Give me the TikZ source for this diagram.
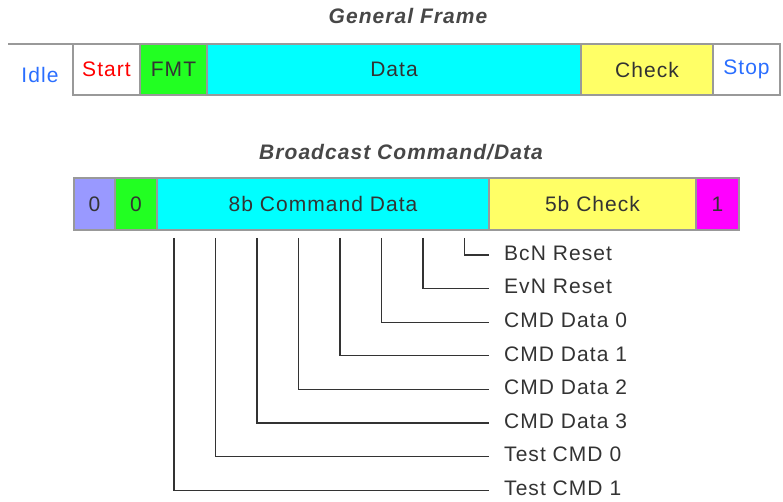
\documentclass[tikz,border=0pt]{standalone}
\usepackage{fontspec}
\setmainfont[LetterSpace=5]{Liberation Sans}
\usetikzlibrary{positioning}

\definecolor{fmtgreen}{HTML}{22FF22}
\definecolor{datacyan}{HTML}{00FFFF}
\definecolor{chkyellow}{HTML}{FFFF66}
\definecolor{bitblue}{HTML}{9999FF}
\definecolor{endmagenta}{HTML}{FF00FF}
\definecolor{idleblue}{HTML}{2A6EFF}
\definecolor{txtgray}{HTML}{333333}
\definecolor{edgegray}{HTML}{999999}

\tikzset{
  field/.style={draw=edgegray, line width=1.2pt, inner sep=0pt, outer sep=0pt,
    text=txtgray, font=\fontsize{21}{25}\selectfont},
  topfield/.style={field, minimum height=51pt},
  bcfield/.style={field, minimum height=52pt},
  heading/.style={text=txtgray!90, font=\fontsize{21}{25}\selectfont\bfseries\itshape},
  bitlabel/.style={anchor=west, inner xsep=15pt, text=txtgray, text depth=4pt,
    font=\fontsize{21}{25}\selectfont},
  bitline/.style={txtgray, line width=1.3pt}
}

\begin{document}
\begin{tikzpicture}[x=1pt,y=-1pt]
\useasboundingbox (0,0) rectangle (783,502);

% General frame
\node[heading] (gtitle) at (408,16) {General Frame};
\node[topfield, anchor=north west, minimum width=67pt, text=red] (start) at (73,44) {Start};
\node[topfield, right=0pt of start, minimum width=67pt, fill=fmtgreen] (fmt) {FMT};
\node[topfield, right=0pt of fmt, minimum width=374pt, fill=datacyan] (data) {Data};
\node[topfield, right=0pt of data, minimum width=132pt, fill=chkyellow] (check) {Check};
\node[topfield, right=0pt of check, minimum width=67pt, text=idleblue] (stop) {Stop};
\coordinate (idlestart) at (8,44);
\draw[edgegray, line width=1.2pt] (idlestart) -- (start.north west);
\node[text=idleblue, font=\fontsize{21}{25}\selectfont] (idle) at (40,75) {Idle};

% Broadcast command/data
\node[heading] (btitle) at (401,152) {Broadcast Command/Data};
\node[bcfield, anchor=north west, minimum width=41pt, fill=bitblue] (bzero) at (74,178) {0};
\node[bcfield, right=0pt of bzero, minimum width=42pt, fill=fmtgreen] (fzero) {0};
\node[bcfield, right=0pt of fzero, minimum width=332pt, fill=datacyan] (cmd) {8b Command Data};
\node[bcfield, right=0pt of cmd, minimum width=207pt, fill=chkyellow] (bcheck) {5b Check};
\node[bcfield, right=0pt of bcheck, minimum width=43pt, fill=endmagenta] (bone) {1};

% bit legend
\foreach \lbl [count=\i from 0] in {BcN Reset, EvN Reset, CMD Data 0, CMD Data 1,
    CMD Data 2, CMD Data 3, Test CMD 0, Test CMD 1} {
  \coordinate (tick\i) at ({464.5-41.5*\i},238);
  \node[bitlabel] (lab\i) at (489,{255+33.6*\i}) {\lbl};
  \draw[bitline] (tick\i) |- (lab\i.west);
}

\end{tikzpicture}
\end{document}
